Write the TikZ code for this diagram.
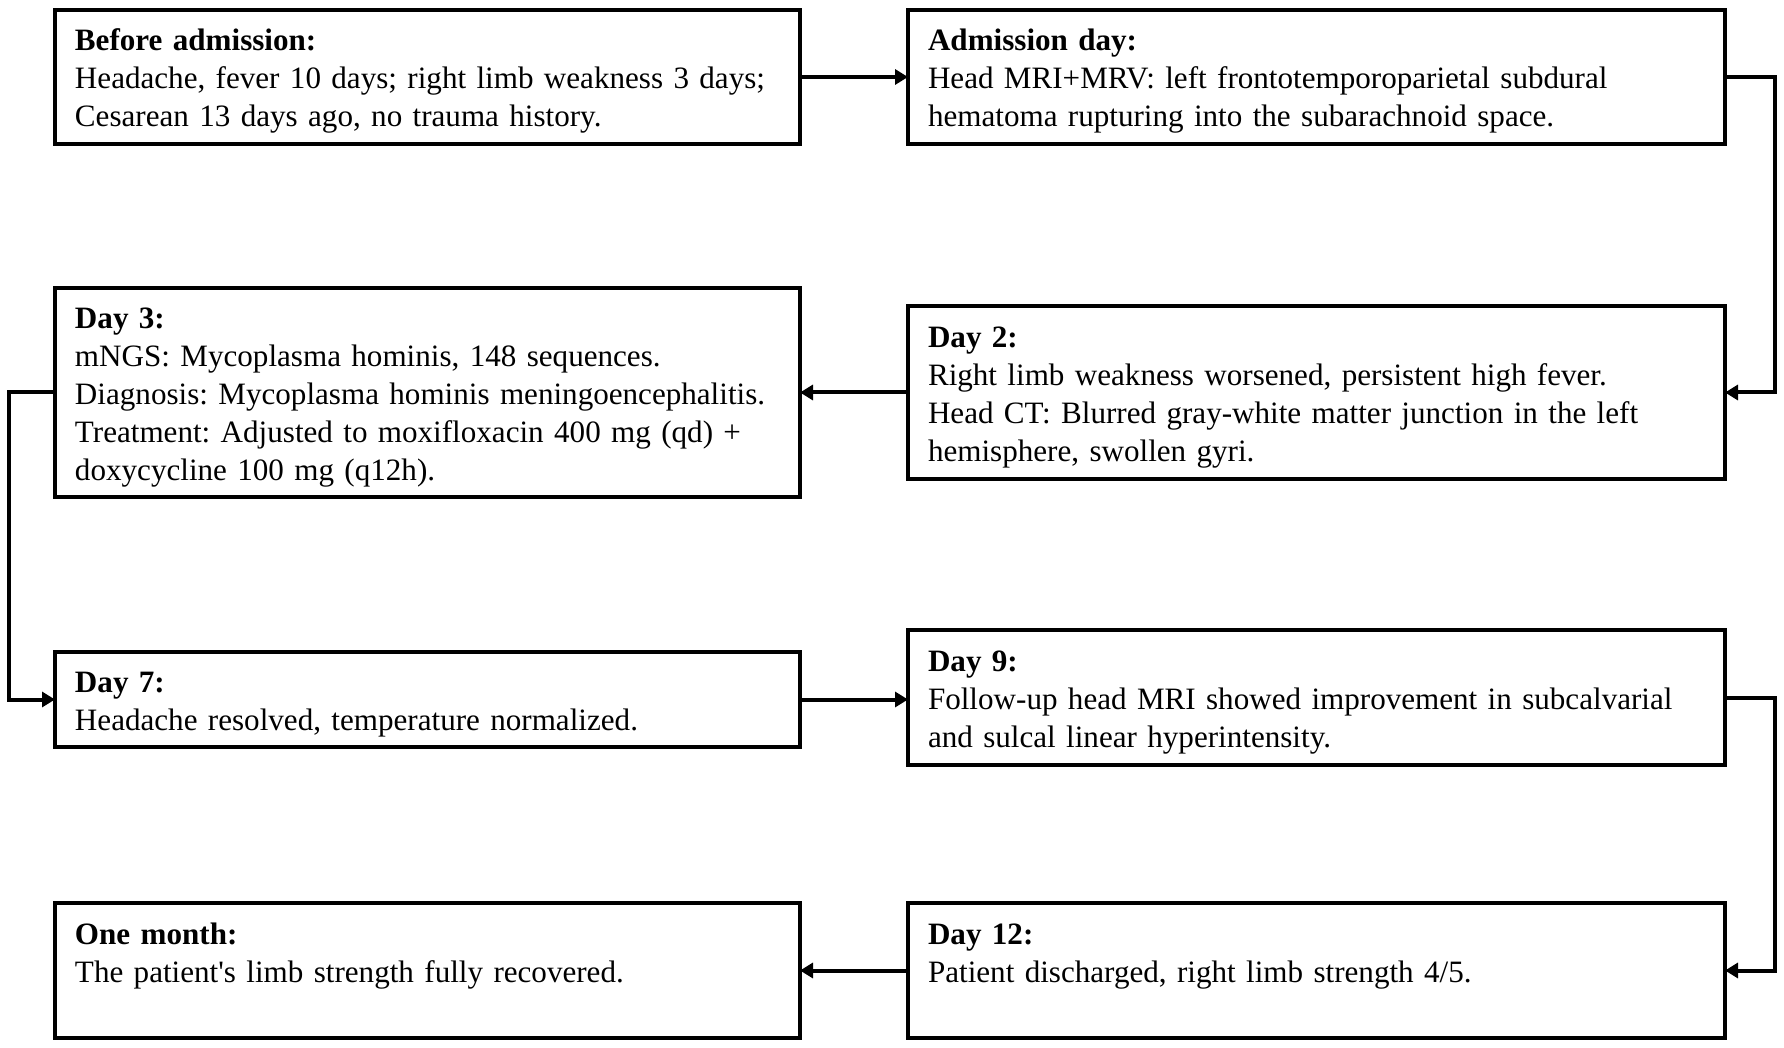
\documentclass[tikz,border=0pt]{standalone}
\usepackage{fontspec}
\setmainfont{Liberation Serif}
\usetikzlibrary{arrows.meta}
\begin{document}
\begin{tikzpicture}[x=0.5pt,y=-0.5pt,
  box/.style={draw=black,line width=2pt,rectangle,inner xsep=10pt,inner ysep=0pt,outer sep=0pt,
    align=left,font=\fontsize{15.55}{19}\selectfont\frenchspacing,anchor=center,
    execute at begin node={\rule{0pt}{17.5pt}},
    execute at end node={\strut}},
  leftbox/.style={box,minimum width=372.5pt,text width=352.5pt},
  rightbox/.style={box,minimum width=408.5pt,text width=388.5pt},
  conn/.style={line width=2pt,-{Triangle[length=6.5pt,width=7.5pt]}}]
\useasboundingbox[fill=white] (0,0) rectangle (1784,1048);

\node[leftbox,minimum height=67pt] (b1) at (427.5,77)
  {\textbf{Before admission:}\\Headache, fever 10 days; right limb weakness 3 days;\\Cesarean 13 days ago, no trauma history.};
\node[rightbox,minimum height=67pt] (b2) at (1316.5,77)
  {\textbf{Admission day:}\\Head MRI+MRV: left frontotemporoparietal subdural\\hematoma rupturing into the subarachnoid space.};
\node[rightbox,minimum height=86.5pt] (d2) at (1316.5,392.5)
  {\textbf{Day 2:}\\Right limb weakness worsened, persistent high fever.\\Head CT: Blurred gray-white matter junction in the left\\hemisphere, swollen gyri.};
\node[leftbox,minimum height=104.5pt] (d3) at (427.5,392.5)
  {\textbf{Day 3:}\\mNGS: Mycoplasma hominis, 148 sequences.\\Diagnosis: Mycoplasma hominis meningoencephalitis.\\Treatment: Adjusted to moxifloxacin 400 mg (qd) +\\doxycycline 100 mg (q12h).};
\node[leftbox,minimum height=47.5pt] (d7) at (427.5,699.5)
  {\textbf{Day 7:}\\Headache resolved, temperature normalized.};
\node[rightbox,minimum height=67.5pt] (d9) at (1316.5,697.5)
  {\textbf{Day 9:}\\Follow-up head MRI showed improvement in subcalvarial\\and sulcal linear hyperintensity.};
\node[rightbox,minimum height=67.5pt] (d12) at (1316.5,970.5)
  {\textbf{Day 12:}\\Patient discharged, right limb strength 4/5.\\};
\node[leftbox,minimum height=67.5pt] (m1) at (427.5,970.5)
  {\textbf{One month:}\\The patient\textquotesingle s limb strength fully recovered.\\};

\coordinate (r1a) at (1775,77);
\coordinate (r1b) at (1775,392.5);
\coordinate (l1a) at (9,392.5);
\coordinate (l1b) at (9,699.5);
\coordinate (r2a) at (1775,697.5);
\coordinate (r2b) at (1775,970.5);

\draw[conn] (b1.east) -- (b1.east -| b2.west);
\draw[conn] (b2.east) -- (r1a) -- (r1b) -- (d2.east);
\draw[conn] (d2.west) -- (d2.west -| d3.east);
\draw[conn] (d3.west) -- (l1a) -- (l1b) -- (d7.west);
\draw[conn] (d7.east) -- (d7.east -| d9.west);
\draw[conn] (d9.east) -- (r2a) -- (r2b) -- (d12.east);
\draw[conn] (d12.west) -- (m1.east);
\end{tikzpicture}
\end{document}
